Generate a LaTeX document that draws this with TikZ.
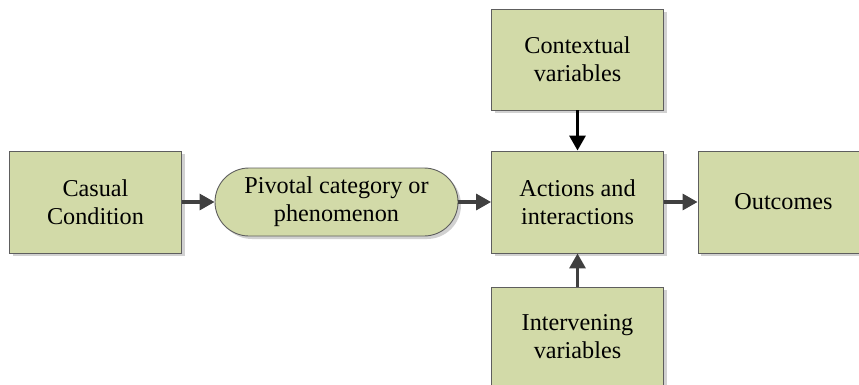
\documentclass[tikz,border=0pt]{standalone}
\usepackage{fontspec}
\setmainfont{Liberation Serif}
\usetikzlibrary{arrows.meta,shadows}
\definecolor{boxfill}{HTML}{D2DAA8}
\definecolor{boxline}{HTML}{5E5E5E}
\definecolor{arrgray}{HTML}{404040}
\begin{document}
\begin{tikzpicture}[x=1pt,y=-1pt,
  box/.style={draw=boxline, line width=0.9pt, fill=boxfill, align=center,
    inner sep=0pt, font=\fontsize{24.2}{28}\selectfont,
    drop shadow={shadow xshift=3pt, shadow yshift=-3pt, fill=black!18, opacity=1}},
  conn/.style={line width=3.2pt, draw=arrgray, -{Triangle[length=15pt,width=16pt]}, fill=arrgray},
  connb/.style={line width=3.2pt, draw=black, -{Triangle[length=15pt,width=16pt]}, fill=black}]
\useasboundingbox (0,0) rectangle (859,385);
\clip (0,0) rectangle (859,385);
\node[box, minimum width=172pt, minimum height=102pt] (cc) at (95.5,202) {Casual\\Condition};
\node[box, minimum width=243pt, minimum height=68pt, rounded corners=34pt] (pc) at (336.5,202) {Pivotal category or\\phenomenon};
\node[box, minimum width=172pt, minimum height=102pt] (ai) at (577.5,202) {Actions and\\interactions};
\node[box, minimum width=172pt, minimum height=101pt] (cv) at (577.5,59.5) {Contextual\\variables};
\node[box, minimum width=172pt, minimum height=100pt] (iv) at (577.5,337) {Intervening\\variables};
\node[box, minimum width=171pt, minimum height=102pt] (oc) at (783.5,202) {Outcomes};
\draw[conn] (cc.east) -- (pc.west);
\draw[conn] (pc.east) -- (ai.west);
\draw[conn] (ai.east) -- (oc.west);
\draw[connb] (cv.south) -- (ai.north);
\draw[conn] (iv.north) -- (ai.south);
\end{tikzpicture}
\end{document}
